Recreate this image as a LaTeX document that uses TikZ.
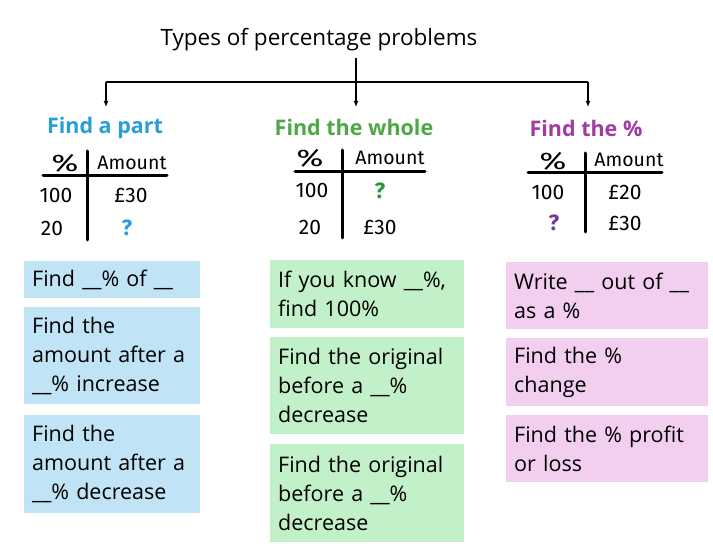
\documentclass[tikz,border=0pt]{standalone}
\usepackage{fontspec}
\setmainfont{Open Sans}
\newfontfamily\handfont{Fira Sans}
\usetikzlibrary{arrows.meta}
\definecolor{bluebox}{RGB}{192,228,245}
\definecolor{greenbox}{RGB}{194,240,200}
\definecolor{pinkbox}{RGB}{242,206,239}
\definecolor{bluehead}{RGB}{40,160,215}
\definecolor{greenhead}{RGB}{78,168,70}
\definecolor{purplehead}{RGB}{160,60,160}
\definecolor{greenq}{RGB}{40,150,60}
\definecolor{purpleq}{RGB}{110,60,150}
\tikzset{
  x=1pt, y=-1pt,
  tbox/.style={anchor=north west, inner xsep=8pt, inner ysep=0pt, align=left,
    font=\fontsize{21.5}{29}\selectfont, text=black},
  bluebx/.style={tbox, fill=bluebox, minimum width=176pt, text width=160pt},
  greenbx/.style={tbox, fill=greenbox, minimum width=194pt, text width=178pt},
  pinkbx/.style={tbox, fill=pinkbox, minimum width=202pt, text width=186pt},
  head/.style={font=\bfseries\fontsize{21.5}{25}\selectfont, inner sep=0pt},
  hand/.style={font=\handfont\fontsize{19.5}{22}\selectfont, inner sep=0pt},
  num/.style={font=\handfont\fontsize{21}{24}\selectfont, inner sep=0pt},
  pct/.style={font=\handfont\fontsize{24}{26}\selectfont, inner sep=0pt},
  qmark/.style={font=\handfont\bfseries\fontsize{22}{24}\selectfont, inner sep=0pt},
  tline/.style={line width=3pt, line cap=round, black},
  conn/.style={line width=1.3pt, black},
  arr/.style={conn, -{Latex[length=6pt,width=5pt]}}
}
\newcommand{\handpct}{\scalebox{1.35}[1]{\%}}
\begin{document}
\begin{tikzpicture}
\useasboundingbox[fill=white] (0,0) rectangle (713,553);
% title and connectors
\node[font=\fontsize{22.5}{26}\selectfont, inner sep=0pt] (title) at (319,40) {Types of percentage problems};
\coordinate (top) at (356,58);
\coordinate (mid) at (356,82);
\coordinate (left) at (106,82);
\coordinate (right) at (588,82);
\coordinate (ltip) at (106,107);
\coordinate (mtip) at (356,107);
\coordinate (rtip) at (588,107);
\draw[conn] (top) -- (mid);
\draw[conn] (left) -- (right);
\draw[arr] (left) -- (ltip);
\draw[arr] (mid) -- (mtip);
\draw[arr] (right) -- (rtip);
% headings
\node[head, text=bluehead] (h1) at (105,128) {Find a part};
\node[head, text=greenhead] (h2) at (354,127) {Find the whole};
\node[head, text=purplehead] (h3) at (586,128) {Find the \%};
% table 1
\coordinate (t1a) at (43,176); \coordinate (t1b) at (167,176);
\coordinate (t1c) at (87,151); \coordinate (t1d) at (87,240);
\draw[tline] (t1a) -- (t1b);
\draw[tline] (t1c) -- (t1d);
\node[pct] (p1) at (65,163) {\handpct};
\node[hand] (a1) at (132,163) {Amount};
\node[num] (r11) at (56,195) {100};
\node[num] (r12) at (131,195) {£30};
\node[num] (r21) at (52,228) {20};
\node[qmark, text=bluehead] (r22) at (127,228) {?};
% table 2
\coordinate (t2a) at (295,172); \coordinate (t2b) at (425,172);
\coordinate (t2c) at (342,150); \coordinate (t2d) at (342,238);
\draw[tline] (t2a) -- (t2b);
\draw[tline] (t2c) -- (t2d);
\node[pct] (p2) at (310,158) {\handpct};
\node[hand] (a2) at (390,158) {Amount};
\node[num] (s11) at (312,190) {100};
\node[qmark, text=greenq] (s12) at (380,191) {?};
\node[num] (s21) at (310,227) {20};
\node[num] (s22) at (380,227) {£30};
% table 3
\coordinate (t3a) at (528,173); \coordinate (t3b) at (662,173);
\coordinate (t3c) at (585,153); \coordinate (t3d) at (585,232);
\draw[tline] (t3a) -- (t3b);
\draw[tline] (t3c) -- (t3d);
\node[pct] (p3) at (553,161) {\handpct};
\node[hand] (a3) at (629,160) {Amount};
\node[num] (u11) at (548,192) {100};
\node[num] (u12) at (625,192) {£20};
\node[qmark, text=purpleq] (u21) at (554,223) {?};
\node[num] (u22) at (625,223) {£30};
% blue boxes
\node[bluebx, minimum height=37pt] (b1) at (24,261) {Find \_\_\% of \_\_};
\node[bluebx, minimum height=97pt] (b2) at (24,307) {Find the\\amount after a\\\_\_\% increase};
\node[bluebx, minimum height=98pt] (b3) at (24,415) {Find the\\amount after a\\\_\_\% decrease};
% green boxes
\node[greenbx, minimum height=68pt] (g1) at (270,260) {If you know \_\_\%,\\find 100\%};
\node[greenbx, minimum height=97pt] (g2) at (270,337) {Find the original\\before a \_\_\%\\decrease};
\node[greenbx, minimum height=98pt] (g3) at (270,444) {Find the original\\before a \_\_\%\\decrease};
% pink boxes
\node[pinkbx, minimum height=67pt] (k1) at (506,262) {Write \_\_ out of \_\_\\as a \%};
\node[pinkbx, minimum height=68pt] (k2) at (506,338) {Find the \%\\change};
\node[pinkbx, minimum height=67pt] (k3) at (506,415) {Find the \% profit\\or loss};
\end{tikzpicture}
\end{document}
